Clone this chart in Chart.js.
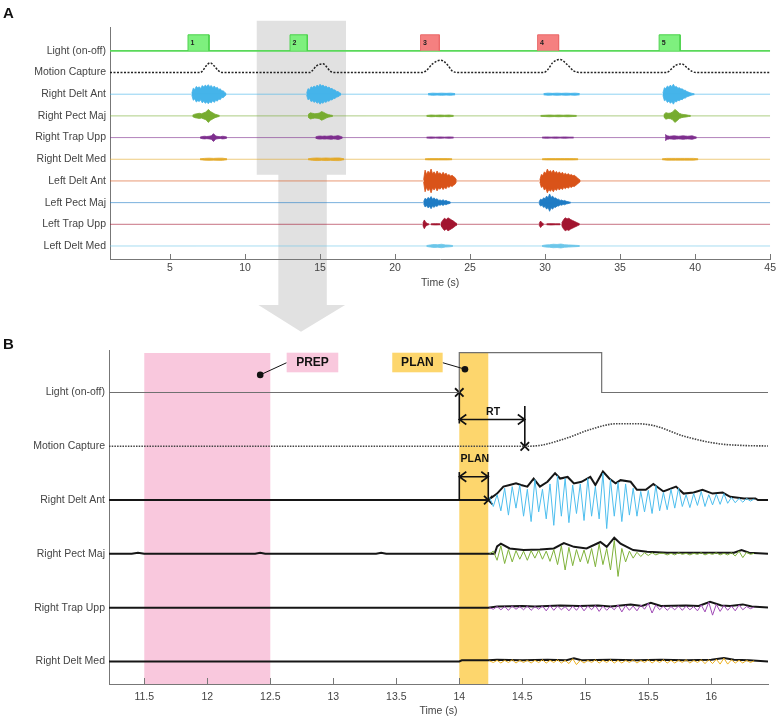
<!DOCTYPE html>
<html>
<head>
<meta charset="utf-8">
<script src="https://cdn.jsdelivr.net/npm/chart.js@4.4.1/dist/chart.umd.min.js"></script>
<style>
  body { margin: 0; background: #fff; width: 779px; height: 722px; overflow: hidden; position: relative; }
  canvas { position: absolute; left: 0; }
  #cA { top: 0; }
  #cB { top: 335px; }
</style>
</head>
<body>
<canvas id="cA" width="779" height="340"></canvas>
<canvas id="cB" width="779" height="387"></canvas>
<script>
// ---------- panel A : whole session ----------
const rowsA = ['Light (on-off)', 'Motion Capture', 'Right Delt Ant', 'Right Pect Maj', 'Right Trap Upp',
  'Right Delt Med', 'Left Delt Ant', 'Left Pect Maj', 'Left Trap Upp', 'Left Delt Med'];
const xTicksA = [5, 10, 15, 20, 25, 30, 35, 40, 45];

// light pulses (s), right arm = green, left arm = red
const trialOn = [6.2, 13.0, 21.7, 29.5, 37.6];
const trialOff = [7.6, 14.15, 22.95, 30.9, 39.0];
const trialArm = ['R', 'R', 'L', 'L', 'R'];

// motion capture trace (s, offset)
const motionA = [[1, 0], [7.0, 0], [7.2, 0.1], [7.4, 0.3], [7.67, 0.45], [7.95, 0.3], [8.2, 0.1], [8.5, 0],
  [14.3, 0], [14.5, 0.1], [14.75, 0.3], [15.2, 0.4], [15.45, 0.25], [15.65, 0.08], [15.9, 0],
  [21.8, 0], [22.1, 0.1], [22.5, 0.4], [23.05, 0.57], [23.5, 0.35], [23.8, 0.08], [24.2, 0],
  [29.9, 0], [30.2, 0.15], [30.5, 0.45], [31.0, 0.6], [31.5, 0.35], [31.9, 0.08], [32.4, 0],
  [38.1, 0], [38.4, 0.15], [38.7, 0.33], [39.1, 0.4], [39.5, 0.2], [39.8, 0.05], [40.1, 0], [45, 0]];

// EMG bursts: [start (s), sample step (s), amplitudes]
const rdaBurstsA = [
  [6.45, 0.1, [0.04, 0.28, 0.22, 0.36, 0.3, 0.34, 0.26, 0.4, 0.33, 0.42, 0.36, 0.44, 0.35, 0.4, 0.3, 0.38, 0.28, 0.32, 0.22, 0.25, 0.15, 0.16, 0.08, 0.03]],
  [14.1, 0.1, [0.04, 0.26, 0.2, 0.34, 0.3, 0.38, 0.32, 0.42, 0.36, 0.46, 0.38, 0.42, 0.34, 0.38, 0.3, 0.33, 0.25, 0.27, 0.2, 0.2, 0.13, 0.12, 0.07, 0.03]],
  [22.2, 0.3, [0.03, 0.05, 0.04, 0.05, 0.04, 0.05, 0.03]],
  [29.9, 0.3, [0.03, 0.05, 0.04, 0.05, 0.04, 0.05, 0.04, 0.05, 0.03]],
  [37.85, 0.1, [0.05, 0.3, 0.26, 0.38, 0.32, 0.42, 0.35, 0.46, 0.33, 0.36, 0.28, 0.3, 0.24, 0.25, 0.18, 0.18, 0.12, 0.1, 0.07, 0.05, 0.03, 0.02]]];
const rpmBurstsA = [
  [6.5, 0.15, [0.03, 0.08, 0.1, 0.12, 0.1, 0.14, 0.18, 0.3, 0.2, 0.14, 0.08, 0.05, 0.02]],
  [14.2, 0.15, [0.06, 0.14, 0.12, 0.1, 0.11, 0.13, 0.2, 0.16, 0.1, 0.06, 0.04, 0.02]],
  [22.1, 0.3, [0.02, 0.04, 0.03, 0.04, 0.03, 0.04, 0.02]],
  [29.7, 0.3, [0.02, 0.03, 0.04, 0.03, 0.04, 0.03, 0.04, 0.03, 0.02]],
  [37.9, 0.15, [0.05, 0.15, 0.12, 0.13, 0.18, 0.3, 0.22, 0.12, 0.08, 0.06, 0.05, 0.03, 0.02]]];
const rtuBurstsA = [
  [7.0, 0.15, [0.02, 0.05, 0.06, 0.05, 0.06, 0.08, 0.18, 0.07, 0.05, 0.04, 0.06, 0.05, 0.02]],
  [14.7, 0.15, [0.03, 0.06, 0.07, 0.06, 0.07, 0.06, 0.07, 0.08, 0.06, 0.07, 0.09, 0.06, 0.02]],
  [22.1, 0.3, [0.02, 0.03, 0.02, 0.03, 0.02, 0.03, 0.02]],
  [29.8, 0.3, [0.02, 0.03, 0.02, 0.03, 0.02, 0.03, 0.02, 0.02]],
  [38.0, 0.15, [0.14, 0.08, 0.06, 0.07, 0.08, 0.07, 0.06, 0.07, 0.08, 0.07, 0.06, 0.07, 0.08, 0.05, 0.02]]];
const rdmBurstsA = [
  [7.0, 0.3, [0.02, 0.04, 0.05, 0.04, 0.05, 0.05, 0.02]],
  [14.2, 0.3, [0.02, 0.05, 0.06, 0.05, 0.06, 0.05, 0.06, 0.06, 0.02]],
  [22.0, 0.3, [0.02, 0.03, 0.03, 0.03, 0.03, 0.03, 0.02]],
  [29.8, 0.3, [0.02, 0.03, 0.03, 0.03, 0.03, 0.03, 0.03, 0.03, 0.02]],
  [37.8, 0.3, [0.02, 0.04, 0.04, 0.04, 0.04, 0.04, 0.04, 0.04, 0.02]]];
const ldaBurstsA = [
  [21.9, 0.1, [0.05, 0.5, 0.3, 0.45, 0.35, 0.55, 0.32, 0.42, 0.3, 0.46, 0.33, 0.38, 0.28, 0.4, 0.3, 0.36, 0.25, 0.3, 0.22, 0.26, 0.2, 0.15, 0.03]],
  [29.65, 0.1, [0.05, 0.3, 0.25, 0.42, 0.35, 0.55, 0.4, 0.48, 0.38, 0.5, 0.36, 0.44, 0.34, 0.42, 0.32, 0.4, 0.3, 0.36, 0.28, 0.34, 0.26, 0.3, 0.24, 0.26, 0.2, 0.15, 0.08, 0.03]]];
const lpmBurstsA = [
  [21.9, 0.1, [0.04, 0.2, 0.14, 0.24, 0.18, 0.28, 0.16, 0.22, 0.14, 0.18, 0.1, 0.12, 0.09, 0.13, 0.08, 0.1, 0.06, 0.05, 0.02]],
  [29.6, 0.1, [0.04, 0.16, 0.12, 0.22, 0.18, 0.3, 0.22, 0.4, 0.24, 0.3, 0.2, 0.22, 0.15, 0.16, 0.1, 0.12, 0.08, 0.1, 0.06, 0.05, 0.03, 0.02]]];
const ltuBurstsA = [
  [21.85, 0.1, [0.05, 0.2, 0.08, 0.04, 0.02]],
  [22.4, 0.3, [0.02, 0.03, 0.02]],
  [23.05, 0.12, [0.05, 0.18, 0.28, 0.22, 0.3, 0.25, 0.2, 0.15, 0.08, 0.03]],
  [29.6, 0.1, [0.04, 0.15, 0.06, 0.03]],
  [30.1, 0.3, [0.02, 0.03, 0.02, 0.02]],
  [31.1, 0.12, [0.05, 0.2, 0.3, 0.25, 0.28, 0.22, 0.18, 0.14, 0.1, 0.06, 0.02]]];
const ldmBurstsA = [
  [22.1, 0.25, [0.02, 0.05, 0.07, 0.06, 0.08, 0.05, 0.04, 0.02]],
  [29.8, 0.25, [0.02, 0.05, 0.06, 0.08, 0.07, 0.09, 0.06, 0.05, 0.04, 0.03, 0.02]]];

// ---------- panel B : zoom on trial 2 ----------
const rowsB = ['Light (on-off)', 'Motion Capture', 'Right Delt Ant', 'Right Pect Maj', 'Right Trap Upp', 'Right Delt Med'];
const xTicksB = [11.5, 12, 12.5, 13, 13.5, 14, 14.5, 15, 15.5, 16];
const lightB = [[11.22, 0], [14.0, 0], [14.0, 0.74], [15.13, 0.74], [15.13, 0], [16.45, 0]];
const motionB = [[11.22, 0], [14.52, 0], [14.65, 0.02], [14.85, 0.15], [15.05, 0.32], [15.25, 0.42], [15.4, 0.42],
  [15.55, 0.38], [15.78, 0.19], [16.05, 0.05], [16.25, 0.015], [16.45, 0.005]];
const prepWin = [11.5, 12.5];
const planWin = [14.0, 14.23];
const lightOnset = 14.0;
const moveOnset = 14.52;
const emgOnset = 14.23;

// linear envelopes (s, amplitude)
const rdaEnvB = [[11.22, 0], [14.23, 0], [14.3, 0.12], [14.35, 0.25], [14.4, 0.28], [14.45, 0.31], [14.49, 0.28],
  [14.54, 0.25], [14.59, 0.4], [14.64, 0.25], [14.7, 0.34], [14.76, 0.5], [14.8, 0.4], [14.86, 0.43], [14.91, 0.31],
  [14.97, 0.34], [15.04, 0.43], [15.08, 0.28], [15.14, 0.53], [15.19, 0.4], [15.24, 0.31], [15.28, 0.37],
  [15.36, 0.34], [15.41, 0.19], [15.48, 0.19], [15.54, 0.3], [15.62, 0.16], [15.72, 0.25], [15.78, 0.12],
  [15.86, 0.14], [15.93, 0.19], [16.01, 0.12], [16.09, 0.14], [16.15, 0.06], [16.26, 0.03], [16.35, 0.03],
  [16.37, 0], [16.45, 0]];
const rpmEnvB = [[11.22, 0], [11.4, 0], [11.45, 0.02], [11.5, 0], [12.38, 0], [12.42, 0.02], [12.46, 0], [13.34, 0],
  [13.38, 0.02], [13.42, 0], [14.28, 0], [14.3, 0.14], [14.33, 0.19], [14.4, 0.1], [14.51, 0.07], [14.64, 0.08],
  [14.75, 0.1], [14.83, 0.2], [14.91, 0.13], [15.01, 0.1], [15.12, 0.22], [15.17, 0.13], [15.23, 0.3], [15.28, 0.19],
  [15.38, 0.07], [15.49, 0.04], [15.65, 0.02], [15.91, 0.02], [16.18, 0.02], [16.24, 0.07], [16.3, 0.02], [16.45, 0]];
const rtuEnvB = [[11.22, 0], [14.23, 0], [14.3, 0.02], [14.5, 0.03], [14.6, 0.02], [14.8, 0.04], [14.95, 0.03],
  [15.1, 0.04], [15.2, 0.02], [15.36, 0.06], [15.45, 0.03], [15.52, 0.09], [15.6, 0.03], [15.8, 0.04], [15.9, 0.03],
  [15.99, 0.11], [16.08, 0.04], [16.15, 0.03], [16.25, 0.06], [16.32, 0.02], [16.45, 0]];
const rdmEnvB = [[11.22, 0], [14.0, 0], [14.02, 0.02], [14.23, 0.02], [14.3, 0.03], [14.5, 0.02], [14.7, 0.03],
  [14.85, 0.02], [14.91, 0.06], [14.97, 0.02], [15.2, 0.03], [15.4, 0.02], [15.6, 0.03], [15.8, 0.02], [16.0, 0.03],
  [16.1, 0.065], [16.18, 0.03], [16.3, 0.02], [16.45, 0]];

// raw EMG, sampled every 0.03 s from 14.24 s
const rawStartB = 14.24;
const rawStepB = 0.03;
const rdaRawB = [0.05, -0.12, 0.10, -0.2, 0.22, -0.28, 0.25, -0.15, 0.28, -0.3,
  0.2, -0.4, 0.38, -0.22, 0.2, -0.35, 0.3, -0.47, 0.45, -0.3,
  0.4, -0.42, 0.28, -0.25, 0.3, -0.38, 0.4, -0.3, 0.25, -0.35,
  0.5, -0.53, 0.38, -0.3, 0.33, -0.4, 0.3, -0.28, 0.22, -0.3,
  0.16, -0.22, 0.18, -0.25, 0.27, -0.2, 0.14, -0.18, 0.2, -0.15,
  0.22, -0.12, 0.1, -0.14, 0.12, -0.1, 0.16, -0.12, 0.1, -0.09,
  0.11, -0.08, 0.12, -0.06, 0.05, -0.05, 0.03, -0.04, 0.03, -0.02, 0.02];
const rpmRawB = [0, 0.05, -0.12, 0.15, -0.18, 0.08, -0.15, 0.06, -0.1, 0.05,
  -0.12, 0.06, -0.08, 0.07, -0.1, 0.05, -0.14, 0.08, -0.2, 0.15,
  -0.3, 0.12, -0.22, 0.08, -0.15, 0.07, -0.18, 0.1, -0.24, 0.18,
  -0.2, 0.1, -0.3, 0.25, -0.42, 0.1, -0.15, 0.05, -0.08, 0.03,
  -0.05, 0.02, -0.03, 0.02, -0.02, 0.01, 0.01, -0.02, 0.01, -0.02,
  0.02, -0.01, 0.01, -0.02, 0.01, -0.01, 0.02, -0.02, 0.01, -0.01,
  0.02, -0.02, 0.01, -0.02, 0.02, -0.04, 0.05, -0.07, 0.03, -0.01, 0.01];
const rtuRawB = [0, -0.03, 0.02, -0.04, 0.02, -0.05, 0.03, -0.03, 0.02, -0.04,
  0.03, -0.05, 0.02, -0.03, 0.03, -0.06, 0.04, -0.05, 0.03, -0.04,
  0.02, -0.06, 0.03, -0.05, 0.04, -0.06, 0.03, -0.04, 0.04, -0.07,
  0.03, -0.05, 0.02, -0.04, 0.05, -0.08, 0.04, -0.05, 0.03, -0.06,
  0.05, -0.03, 0.08, -0.1, 0.05, -0.04, 0.03, -0.05, 0.02, -0.04,
  0.03, -0.05, 0.03, -0.04, 0.02, -0.06, 0.05, -0.08, 0.1, -0.14,
  0.06, -0.07, 0.04, -0.05, 0.03, -0.06, 0.05, -0.04, 0.02, -0.02, 0.01];
const rdmRawB = [0.01, -0.02, 0.02, -0.03, 0.02, -0.02, 0.03, -0.03, 0.02, -0.02,
  0.02, -0.03, 0.02, -0.02, 0.03, -0.03, 0.02, -0.02, 0.03, -0.03,
  0.02, -0.04, 0.05, -0.06, 0.02, -0.03, 0.02, -0.02, 0.03, -0.03,
  0.02, -0.02, 0.03, -0.03, 0.02, -0.03, 0.02, -0.02, 0.03, -0.03,
  0.02, -0.02, 0.03, -0.03, 0.02, -0.02, 0.03, -0.03, 0.02, -0.03,
  0.02, -0.02, 0.03, -0.03, 0.02, -0.02, 0.03, -0.04, 0.03, -0.04,
  0.04, -0.05, 0.06, -0.05, 0.03, -0.03, 0.02, -0.03, 0.02, -0.02, 0.01];

// ---------- helpers ----------
const FONT = '"Liberation Sans", Arial, Helvetica, sans-serif';
const TXT = '#444';
const AXIS = '#777';
Chart.defaults.font.family = FONT;

const shift = (pairs, base) => pairs.map(p => ({ x: p[0], y: base + p[1] }));
const sampled = (t0, dt, vals, base) => vals.map((v, k) => ({ x: t0 + k * dt, y: base + v }));

function lineDs(data, color, width, extra) {
  return Object.assign({ data, borderColor: color, borderWidth: width, fill: false, pointRadius: 0 }, extra || {});
}

function inwardTicks(chart, ticks, len) {
  const { ctx, chartArea, scales: { x } } = chart;
  ctx.save();
  ctx.strokeStyle = AXIS;
  ctx.lineWidth = 1;
  ctx.beginPath();
  ticks.forEach(t => {
    const px = Math.round(x.getPixelForValue(t)) + 0.5;
    ctx.moveTo(px, chartArea.bottom);
    ctx.lineTo(px, chartArea.bottom - len);
  });
  ctx.stroke();
  ctx.restore();
}

function panelLetter(ctx, letter, x, y) {
  ctx.save();
  ctx.font = 'bold 15px ' + FONT;
  ctx.fillStyle = '#111';
  ctx.textBaseline = 'alphabetic';
  ctx.fillText(letter, x, y);
  ctx.restore();
}

// ---------- chart A ----------
const yA = i => rowsA.length - i;
const dsA = [];

// light pulses
trialOn.forEach((on, k) => {
  const base = yA(0);
  const red = trialArm[k] === 'L';
  dsA.push(lineDs(shift([[on, 0], [on, 0.74], [trialOff[k], 0.74], [trialOff[k], 0]], base),
    red ? '#ea6a6a' : '#4cd24c', 1, { fill: { value: base }, backgroundColor: red ? '#f58080' : '#7ef07e' }));
});
dsA.push(lineDs(shift([[1, 0], [45, 0]], yA(0)), '#5ad85a', 1.8));
dsA.push(lineDs(shift(motionA, yA(1)), '#222', 1.5, { borderDash: [2, 1.5], cubicInterpolationMode: 'monotone' }));

const channelsA = [
  [2, rdaBurstsA, '#45b4ea'], [3, rpmBurstsA, '#77ac30'], [4, rtuBurstsA, '#7e2f8e'], [5, rdmBurstsA, '#e3a92a'],
  [6, ldaBurstsA, '#d95319'], [7, lpmBurstsA, '#1f7cc4'], [8, ltuBurstsA, '#a2142f'], [9, ldmBurstsA, '#6cc6ea']];
channelsA.forEach(([row, bursts, color]) => {
  const base = yA(row);
  dsA.push(lineDs(shift([[1, 0], [45, 0]], base), color + '99', 1));
  bursts.forEach(([t0, dt, amp]) => {
    dsA.push(lineDs(sampled(t0, dt, amp, base), color, 0.8, { fill: '+1', backgroundColor: color }));
    dsA.push(lineDs(sampled(t0, dt, amp.map(a => -a), base), color, 0.8));
  });
});

const decoA = {
  id: 'decoA',
  beforeDraw(chart) {
    // grey zoom arrow pointing at panel B
    const { ctx, scales: { x, y } } = chart;
    const poly = [[10.78, 11.39], [16.73, 11.39], [16.73, 4.29], [15.45, 4.29], [15.45, -1.72], [16.67, -1.72],
      [13.73, -2.95], [10.89, -1.72], [12.22, -1.72], [12.22, 4.29], [10.78, 4.29]];
    ctx.save();
    ctx.fillStyle = '#e1e1e1';
    ctx.beginPath();
    poly.forEach(([t, v], k) => {
      const px = x.getPixelForValue(t), py = y.getPixelForValue(v);
      k ? ctx.lineTo(px, py) : ctx.moveTo(px, py);
    });
    ctx.closePath();
    ctx.fill();
    ctx.restore();
  },
  afterDraw(chart) {
    const { ctx, scales: { x, y } } = chart;
    inwardTicks(chart, xTicksA, 5);
    ctx.save();
    ctx.font = 'bold 7px ' + FONT;
    ctx.fillStyle = '#222';
    ctx.textBaseline = 'middle';
    trialOn.forEach((on, k) => {
      ctx.fillText(String(k + 1), x.getPixelForValue(on) + 2.5, y.getPixelForValue(yA(0) + 0.35));
    });
    ctx.restore();
    panelLetter(ctx, 'A', 3, 18);
  }
};

new Chart(document.getElementById('cA'), {
  type: 'line',
  data: { datasets: dsA },
  plugins: [decoA],
  options: {
    responsive: false,
    animation: false,
    events: [],
    layout: { padding: { left: 0, right: 8, top: 27, bottom: 49 } },
    elements: { point: { radius: 0 }, line: { tension: 0 } },
    plugins: { legend: { display: false }, tooltip: { enabled: false } },
    scales: {
      x: {
        type: 'linear', min: 1, max: 45,
        afterBuildTicks: s => { s.ticks = xTicksA.map(v => ({ value: v })); },
        afterFit: s => { s.height = 32; },
        ticks: { color: TXT, font: { size: 10.5 }, padding: 3, autoSkip: false, maxRotation: 0, callback: v => String(v) },
        grid: { display: false, drawTicks: false },
        border: { color: AXIS, width: 1 },
        title: { display: true, text: 'Time (s)', color: TXT, font: { size: 10.5 }, padding: { top: 0, bottom: 2 } }
      },
      y: {
        type: 'linear', min: 0.4, max: 11.1,
        afterBuildTicks: s => { s.ticks = rowsA.map((_, i) => ({ value: yA(i) })); },
        afterFit: s => { s.width = 110; },
        ticks: { color: TXT, font: { size: 10.5 }, padding: 4, autoSkip: false,
          callback: v => rowsA[rowsA.length - v] },
        grid: { display: false, drawTicks: false },
        border: { color: AXIS, width: 1 }
      }
    }
  }
});

// ---------- chart B ----------
const yB = i => rowsB.length - i;
const dsB = [];
dsB.push(lineDs(shift(lightB, yB(0)), '#707070', 1.2));
dsB.push(lineDs(shift(motionB, yB(1)), '#444', 1.6, { borderDash: [1.5, 1.2], cubicInterpolationMode: 'monotone' }));
[[2, rdaRawB, rdaEnvB, '#4dbeee'], [3, rpmRawB, rpmEnvB, '#7fb23a'], [4, rtuRawB, rtuEnvB, '#a04bb6'],
  [5, rdmRawB, rdmEnvB, '#edb120']].forEach(([row, raw, env, color]) => {
  const base = yB(row);
  dsB.push(lineDs(sampled(rawStartB, rawStepB, raw, base), color, 1));
  dsB.push(lineDs(shift(env, base), '#161616', 2));
});
dsB.push({
  data: [{ x: lightOnset, y: yB(0) }, { x: moveOnset, y: yB(1) }, { x: emgOnset, y: yB(2) }],
  showLine: false, pointStyle: 'crossRot', pointRadius: 6,
  pointBorderColor: '#111', pointBorderWidth: 1.8, pointBackgroundColor: '#111', borderColor: '#111'
});

function arrowLine(ctx, x1, x2, y) {
  ctx.beginPath();
  ctx.moveTo(x1, y); ctx.lineTo(x2, y);
  ctx.moveTo(x1 + 7, y - 5); ctx.lineTo(x1, y); ctx.lineTo(x1 + 7, y + 5);
  ctx.moveTo(x2 - 7, y - 5); ctx.lineTo(x2, y); ctx.lineTo(x2 - 7, y + 5);
  ctx.stroke();
}

function seg(ctx, x1, y1, x2, y2) {
  ctx.beginPath(); ctx.moveTo(x1, y1); ctx.lineTo(x2, y2); ctx.stroke();
}

function tagBox(ctx, text, left, top, w, h, fill) {
  ctx.fillStyle = fill;
  ctx.fillRect(left, top, w, h);
  ctx.fillStyle = '#111';
  ctx.font = 'bold 12px ' + FONT;
  ctx.textAlign = 'center';
  ctx.textBaseline = 'middle';
  ctx.fillText(text, left + w / 2, top + h / 2 + 0.5);
}

const PINK = '#f9c8dd';
const GOLD = '#fdd66d';

const decoB = {
  id: 'decoB',
  beforeDraw(chart) {
    const { ctx, chartArea: ca, scales: { x } } = chart;
    ctx.save();
    ctx.fillStyle = PINK;
    ctx.fillRect(x.getPixelForValue(prepWin[0]), ca.top + 3, x.getPixelForValue(prepWin[1]) - x.getPixelForValue(prepWin[0]), ca.bottom - ca.top - 3);
    ctx.fillStyle = GOLD;
    ctx.fillRect(x.getPixelForValue(planWin[0]), ca.top + 2, x.getPixelForValue(planWin[1]) - x.getPixelForValue(planWin[0]), ca.bottom - ca.top - 2);
    ctx.restore();
  },
  afterDraw(chart) {
    const { ctx, scales: { x, y } } = chart;
    const X = v => x.getPixelForValue(v);
    inwardTicks(chart, xTicksB, 6);
    const yL = y.getPixelForValue(yB(0));
    const yM = y.getPixelForValue(yB(1));
    const yR = y.getPixelForValue(yB(2));
    ctx.save();
    ctx.strokeStyle = '#111';
    ctx.fillStyle = '#111';
    ctx.lineWidth = 1.6;

    // RT bracket
    seg(ctx, X(lightOnset), yL, X(lightOnset), yL + 31);
    seg(ctx, X(moveOnset), yL + 13.5, X(moveOnset), yM);
    arrowLine(ctx, X(lightOnset), X(moveOnset), yL + 27);
    ctx.font = 'bold 10.5px ' + FONT;
    ctx.textAlign = 'center';
    ctx.textBaseline = 'middle';
    ctx.fillText('RT', (X(lightOnset) + X(moveOnset)) / 2 + 1, yL + 19.5);

    // PLAN bracket
    seg(ctx, X(planWin[0]), yR - 28, X(planWin[0]), yR);
    seg(ctx, X(planWin[1]), yR - 28, X(planWin[1]), yR);
    arrowLine(ctx, X(planWin[0]), X(planWin[1]), yR - 23.3);
    ctx.fillText('PLAN', (X(planWin[0]) + X(planWin[1])) / 2 + 1, yR - 41);

    // callout tags
    const top = chart.chartArea.top + 2.7;
    ctx.lineWidth = 1;
    const prepDot = [X(12.42), yL - 17.6];
    seg(ctx, X(12.63), top + 10, prepDot[0], prepDot[1]);
    tagBox(ctx, 'PREP', X(12.63), top, 51.6, 19.6, PINK);
    ctx.fillStyle = '#111';
    ctx.beginPath(); ctx.arc(prepDot[0], prepDot[1], 3.3, 0, Math.PI * 2); ctx.fill();

    const planDot = [X(14.045), yL - 23.3];
    seg(ctx, X(13.468) + 50.4, top + 10, planDot[0], planDot[1]);
    tagBox(ctx, 'PLAN', X(13.468), top, 50.4, 19.6, GOLD);
    ctx.fillStyle = '#111';
    ctx.beginPath(); ctx.arc(planDot[0], planDot[1], 3.3, 0, Math.PI * 2); ctx.fill();
    ctx.restore();

    panelLetter(ctx, 'B', 3, 14);
  }
};

new Chart(document.getElementById('cB'), {
  type: 'line',
  data: { datasets: dsB },
  plugins: [decoB],
  options: {
    responsive: false,
    animation: false,
    events: [],
    layout: { padding: { left: 0, right: 11, top: 15, bottom: 3 } },
    elements: { point: { radius: 0 }, line: { tension: 0 } },
    plugins: { legend: { display: false }, tooltip: { enabled: false } },
    scales: {
      x: {
        type: 'linear', min: 11.22, max: 16.45,
        afterBuildTicks: s => { s.ticks = xTicksB.map(v => ({ value: v })); },
        afterFit: s => { s.height = 35; },
        ticks: { color: TXT, font: { size: 10.5 }, padding: 7, autoSkip: false, maxRotation: 0, callback: v => String(v) },
        grid: { display: false, drawTicks: false },
        border: { color: AXIS, width: 1 },
        title: { display: true, text: 'Time (s)', color: TXT, font: { size: 10.5 }, padding: { top: 0, bottom: 2 } }
      },
      y: {
        type: 'linear', min: 0.58, max: 6.79,
        afterBuildTicks: s => { s.ticks = rowsB.map((_, i) => ({ value: yB(i) })); },
        afterFit: s => { s.width = 109; },
        ticks: { color: TXT, font: { size: 10.5 }, padding: 4, autoSkip: false,
          callback: v => rowsB[rowsB.length - v] },
        grid: { display: false, drawTicks: false },
        border: { color: AXIS, width: 1 }
      }
    }
  }
});
</script>
</body>
</html>
